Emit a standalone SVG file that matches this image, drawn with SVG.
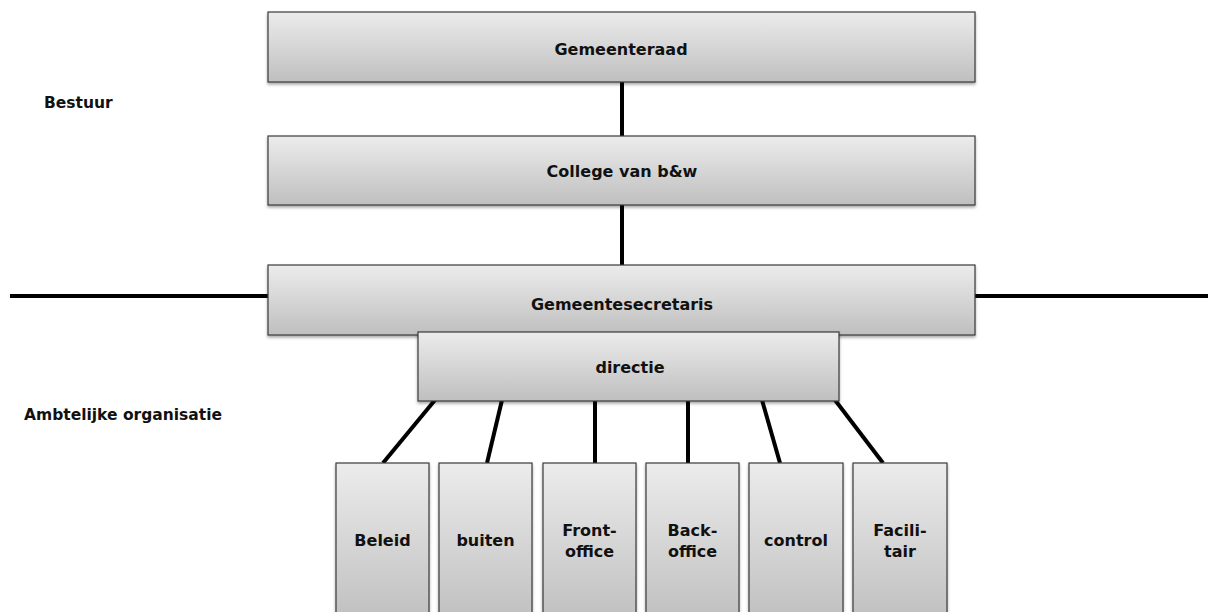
<svg xmlns="http://www.w3.org/2000/svg" width="1208" height="612" viewBox="0 0 1208 612">
  <defs>
    <linearGradient id="boxFill" x1="0" y1="0" x2="0" y2="1">
      <stop offset="0" stop-color="#ececec"/>
      <stop offset="1" stop-color="#bfbfbf"/>
    </linearGradient>
    <filter id="shadow" x="-5%" y="-10%" width="110%" height="130%">
      <feDropShadow dx="0" dy="2" stdDeviation="1.5" flood-color="#000" flood-opacity="0.35"/>
    </filter>
    <style>
      .box { fill: url(#boxFill); stroke: #3a3a3a; stroke-width: 1.2; filter: url(#shadow); }
      .lbl { font-family: "DejaVu Sans", "Liberation Sans", sans-serif; font-weight: bold; font-size: 16px; fill: #111; text-anchor: middle; }
      .side { font-family: "DejaVu Sans", "Liberation Sans", sans-serif; font-weight: bold; font-size: 15.5px; fill: #111; }
      .conn { stroke: #000; stroke-width: 4; fill: none; }
    </style>
  </defs>
  <rect width="1208" height="612" fill="#fff"/>

  <!-- side labels -->
  <text class="side" x="44" y="108">Bestuur</text>
  <text class="side" x="24" y="420">Ambtelijke organisatie</text>

  <!-- connectors -->
  <g id="connectors">
    <line class="conn" x1="622" y1="82" x2="622" y2="136"/>
    <line class="conn" x1="622" y1="205" x2="622" y2="265"/>
    <line class="conn" x1="10" y1="296" x2="268" y2="296"/>
    <line class="conn" x1="975" y1="296" x2="1208" y2="296"/>
    <line class="conn" x1="435" y1="400" x2="383" y2="463"/>
    <line class="conn" x1="502" y1="400" x2="487" y2="463"/>
    <line class="conn" x1="595" y1="400" x2="595" y2="463"/>
    <line class="conn" x1="688" y1="400" x2="688" y2="463"/>
    <line class="conn" x1="762" y1="400" x2="780" y2="463"/>
    <line class="conn" x1="835" y1="400" x2="883" y2="463"/>
  </g>

  <g id="gemeenteraad">
    <rect class="box" x="268" y="12" width="707" height="70"/>
    <text class="lbl" x="621" y="55">Gemeenteraad</text>
  </g>
  <g id="college">
    <rect class="box" x="268" y="136" width="707" height="69"/>
    <text class="lbl" x="622" y="177">College van b&amp;w</text>
  </g>
  <g id="gemeentesecretaris">
    <rect class="box" x="268" y="265" width="707" height="70"/>
    <text class="lbl" x="622" y="310">Gemeentesecretaris</text>
  </g>
  <g id="directie">
    <rect class="box" x="418" y="332" width="421" height="69"/>
    <text class="lbl" x="630" y="373">directie</text>
  </g>

  <g id="beleid">
    <rect class="box" x="336" y="463" width="93" height="160"/>
    <text class="lbl" x="382.5" y="546">Beleid</text>
  </g>
  <g id="buiten">
    <rect class="box" x="439" y="463" width="93" height="160"/>
    <text class="lbl" x="485.5" y="546">buiten</text>
  </g>
  <g id="front-office">
    <rect class="box" x="543" y="463" width="93" height="160"/>
    <text class="lbl" x="589.5" y="536">Front-</text>
    <text class="lbl" x="589.5" y="557">office</text>
  </g>
  <g id="back-office">
    <rect class="box" x="646" y="463" width="93" height="160"/>
    <text class="lbl" x="692.5" y="536">Back-</text>
    <text class="lbl" x="692.5" y="557">office</text>
  </g>
  <g id="control">
    <rect class="box" x="749" y="463" width="94" height="160"/>
    <text class="lbl" x="796" y="546">control</text>
  </g>
  <g id="facilitair">
    <rect class="box" x="853" y="463" width="94" height="160"/>
    <text class="lbl" x="900" y="536">Facili-</text>
    <text class="lbl" x="900" y="557">tair</text>
  </g>
</svg>
